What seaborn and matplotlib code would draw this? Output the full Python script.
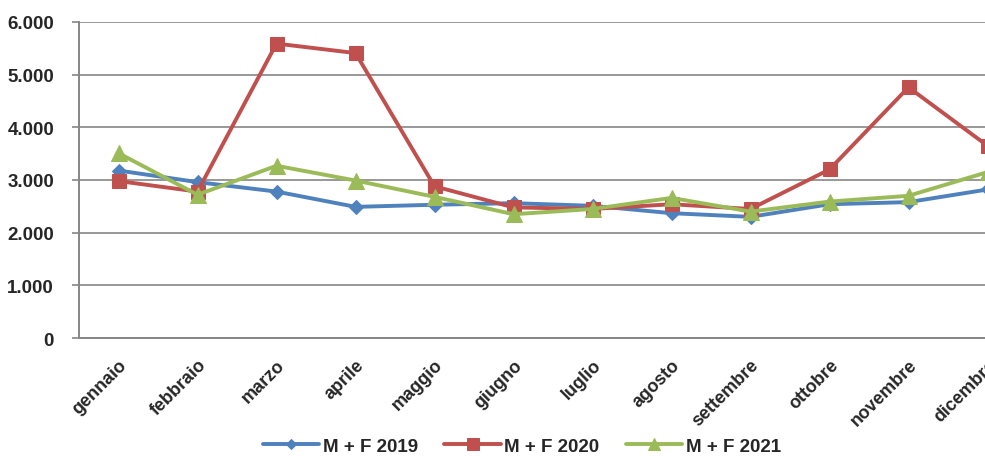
import pandas as pd
import matplotlib
matplotlib.use('Agg')
import matplotlib.pyplot as plt
from matplotlib.ticker import FuncFormatter, FixedLocator
import seaborn as sns

mesi = ['gennaio', 'febbraio', 'marzo', 'aprile', 'maggio', 'giugno',
        'luglio', 'agosto', 'settembre', 'ottobre', 'novembre', 'dicembre']

mf_2019 = [3180, 2960, 2780, 2490, 2530, 2560, 2510, 2370, 2300, 2540, 2580, 2820]
mf_2020 = [2980, 2780, 5590, 5410, 2880, 2480, 2450, 2540, 2450, 3200, 4760, 3650]
mf_2021 = [3510, 2720, 3270, 2990, 2680, 2350, 2450, 2660, 2400, 2590, 2700, 3150]

serie = ['M + F 2019', 'M + F 2020', 'M + F 2021']
colori = ['#4F81BD', '#C0504D', '#9BBB59']
marker = ['D', 's', '^']
msize = [7, 10, 11]

df = pd.DataFrame({'mese': list(range(12)) * 3,
                   'valore': mf_2019 + mf_2020 + mf_2021,
                   'serie': [s for s in serie for _ in range(12)]})

sns.set_style('white')
plt.rcParams['font.family'] = ['Liberation Sans', 'DejaVu Sans']
plt.rcParams['font.weight'] = 'bold'

fig = plt.figure(figsize=(9.85, 4.6), dpi=100)
ax = fig.add_axes([79 / 985, 121 / 460, 948 / 985, 316 / 460])

for s, c, m, ms in zip(serie, colori, marker, msize):
    sns.lineplot(data=df[df['serie'] == s], x='mese', y='valore', ax=ax,
                 color=c, marker=m, markersize=ms, markeredgecolor=c,
                 linewidth=2.8, label=s)

ax.set_xlim(-0.5, 11.5)
ax.set_ylim(0, 6000)
ax.set_xlabel('')
ax.set_ylabel('')

#griglia orizzontale grigia
ax.set_yticks(range(0, 6001, 1000))
ax.yaxis.set_major_formatter(FuncFormatter(lambda v, p: f'{v:,.0f}'.replace(',', '.')))
ax.grid(axis='y', color='#868686', linewidth=1.2)
ax.set_axisbelow(True)

ax.xaxis.set_major_locator(FixedLocator([i - 0.5 for i in range(13)]))
ax.xaxis.set_major_formatter(FuncFormatter(lambda v, p: ''))
ax.xaxis.set_minor_locator(FixedLocator(list(range(12))))
ax.set_xticklabels(mesi, minor=True, rotation=45, ha='right', va='top',
                   rotation_mode='anchor', fontsize=13)
ax.tick_params(axis='x', which='major', length=5, width=1.2, color='#868686', direction='out')
ax.tick_params(axis='x', which='minor', length=0, pad=13)
ax.tick_params(axis='y', length=5, width=1.2, color='#868686', labelsize=13.5, pad=13, left=True)

for sp in ['top', 'right']:
    ax.spines[sp].set_visible(False)
for sp in ['left', 'bottom']:
    ax.spines[sp].set_color('#868686')
    ax.spines[sp].set_linewidth(1.4)

ax.get_legend().remove()
h, l = ax.get_legend_handles_labels()
fig.legend(h, l, loc='center', bbox_to_anchor=(522 / 985, 13 / 460), ncol=3,
           frameon=False, fontsize=13.5, handlelength=3.0, handletextpad=0.2,
           columnspacing=1.4, markerscale=0.8, borderpad=0.1)

fig.savefig('out.png', dpi=100)
